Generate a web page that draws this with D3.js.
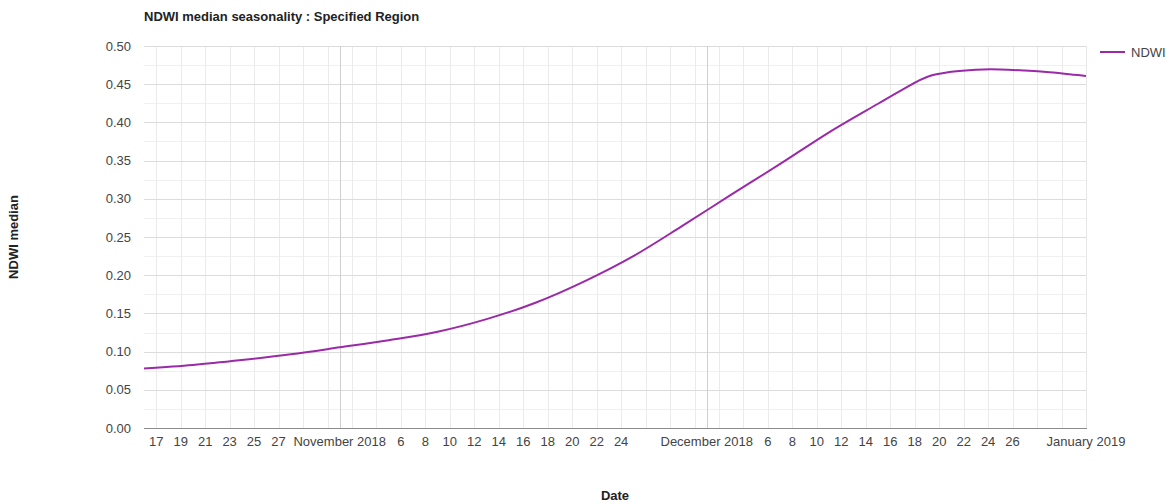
<!DOCTYPE html>
<html>
<head>
<meta charset="utf-8">
<script src="https://cdn.jsdelivr.net/npm/d3@7"></script>
<style>
  html, body { margin: 0; padding: 0; background: #fff; }
  svg { display: block; font-family: "Liberation Sans", Arial, sans-serif; }
</style>
</head>
<body>
<svg id="chart" width="1175" height="504"></svg>
<script>
// NDWI median series (date, value)
const dates = ["2018-10-16","2018-10-20","2018-10-24","2018-10-28","2018-11-01","2018-11-05",
  "2018-11-09","2018-11-13","2018-11-17","2018-11-21","2018-11-25","2018-11-29","2018-12-03",
  "2018-12-07","2018-12-11","2018-12-15","2018-12-17","2018-12-19","2018-12-21","2018-12-23",
  "2018-12-25","2018-12-27","2018-12-29","2018-12-31","2019-01-01"];
const ndwi = [0.078, 0.0825, 0.089, 0.0965, 0.1056, 0.115,
  0.126, 0.1425, 0.164, 0.192, 0.225, 0.2645, 0.3054,
  0.3456, 0.387, 0.4244, 0.443, 0.4595, 0.4662, 0.469,
  0.4693, 0.4679, 0.4657, 0.4625, 0.4607];

// Labelled x ticks
const xTickDates = ["2018-10-17","2018-10-19","2018-10-21","2018-10-23","2018-10-25","2018-10-27",
  "2018-11-01","2018-11-06","2018-11-08","2018-11-10","2018-11-12","2018-11-14","2018-11-16",
  "2018-11-18","2018-11-20","2018-11-22","2018-11-24","2018-12-01","2018-12-06","2018-12-08",
  "2018-12-10","2018-12-12","2018-12-14","2018-12-16","2018-12-18","2018-12-20","2018-12-22",
  "2018-12-24","2018-12-26","2019-01-01"];
const xTickLabels = ["17","19","21","23","25","27","November 2018","6","8","10","12","14","16",
  "18","20","22","24","December 2018","6","8","10","12","14","16","18","20","22","24","26",
  "January 2019"];
const monthStarts = ["2018-11-01","2018-12-01"];
const yTicks = [0, 0.05, 0.10, 0.15, 0.20, 0.25, 0.30, 0.35, 0.40, 0.45, 0.50];

const title = "NDWI median seasonality : Specified Region";
const xTitle = "Date";
const yTitle = "NDWI median";
const seriesName = "NDWI";
const lineColor = "#9b2aa8";

const parse = d3.utcParse("%Y-%m-%d");
const data = dates.map((d, i) => ({ date: parse(d), value: ndwi[i] }));

const plot = { left: 144, right: 1086, top: 46, bottom: 428 };
const svg = d3.select("#chart");

const x = d3.scaleUtc()
  .domain([parse("2018-10-16"), parse("2019-01-01")])
  .range([plot.left, plot.right]);
const y = d3.scaleLinear().domain([0, 0.5]).range([plot.bottom, plot.top]);

const grid = svg.append("g").attr("shape-rendering", "crispEdges");

// minor horizontal gridlines (every 0.025)
grid.selectAll("line.hmin")
  .data(d3.range(0.025, 0.5, 0.05))
  .join("line")
  .attr("x1", plot.left).attr("x2", plot.right + 1)
  .attr("y1", d => Math.round(y(d)) + 0.5).attr("y2", d => Math.round(y(d)) + 0.5)
  .attr("stroke", "#f0f0f0");

// minor vertical gridlines every two days
const dayLines = d3.utcDay.range(parse("2018-10-17"), parse("2019-01-01"), 1)
  .filter(d => Math.round((d - parse("2018-10-17")) / 864e5) % 2 === 0)
  .filter(d => !monthStarts.includes(d3.utcFormat("%Y-%m-%d")(d)));
grid.selectAll("line.vmin")
  .data(dayLines)
  .join("line")
  .attr("x1", d => Math.round(x(d)) + 0.5).attr("x2", d => Math.round(x(d)) + 0.5)
  .attr("y1", plot.top).attr("y2", plot.bottom)
  .attr("stroke", "#ebebeb");

// major horizontal gridlines
grid.selectAll("line.hmaj")
  .data(yTicks.slice(1))
  .join("line")
  .attr("x1", plot.left).attr("x2", plot.right + 1)
  .attr("y1", d => Math.round(y(d)) + 0.5).attr("y2", d => Math.round(y(d)) + 0.5)
  .attr("stroke", "#dcdcdc");

// month gridlines
grid.selectAll("line.vmaj")
  .data(monthStarts.map(parse))
  .join("line")
  .attr("x1", d => Math.round(x(d)) + 0.5).attr("x2", d => Math.round(x(d)) + 0.5)
  .attr("y1", plot.top).attr("y2", plot.bottom)
  .attr("stroke", "#cfcfcf");

// right frame edge
grid.append("line")
  .attr("x1", plot.right + 0.5).attr("x2", plot.right + 0.5)
  .attr("y1", plot.top).attr("y2", plot.bottom)
  .attr("stroke", "#e6e6e6");

// baseline
grid.append("line")
  .attr("x1", plot.left).attr("x2", plot.right + 1)
  .attr("y1", plot.bottom + 0.5).attr("y2", plot.bottom + 0.5)
  .attr("stroke", "#8c8c8c");

// y axis labels
svg.append("g")
  .selectAll("text")
  .data(yTicks)
  .join("text")
  .attr("x", 131)
  .attr("y", d => y(d) + 4.5)
  .attr("text-anchor", "end")
  .attr("font-size", 13)
  .attr("fill", "#444")
  .text(d => d3.format(".2f")(d));

// x axis labels
svg.append("g")
  .selectAll("text")
  .data(xTickDates.map((d, i) => ({ date: parse(d), label: xTickLabels[i] })))
  .join("text")
  .attr("x", d => x(d.date))
  .attr("y", 446)
  .attr("text-anchor", "middle")
  .attr("font-size", 13)
  .attr("fill", "#444")
  .text(d => d.label);

// series line
const line = d3.line()
  .x(d => x(d.date))
  .y(d => y(d.value))
  .curve(d3.curveCatmullRom.alpha(0.5));
svg.append("path")
  .datum(data)
  .attr("d", line)
  .attr("fill", "none")
  .attr("stroke", lineColor)
  .attr("stroke-width", 2)
  .attr("stroke-linejoin", "round");

// titles
svg.append("text")
  .attr("x", 144).attr("y", 21)
  .attr("font-size", 13).attr("font-weight", "bold").attr("fill", "#222")
  .text(title);
svg.append("text")
  .attr("x", (plot.left + plot.right) / 2).attr("y", 500)
  .attr("text-anchor", "middle")
  .attr("font-size", 13).attr("font-weight", "bold").attr("fill", "#222")
  .text(xTitle);
svg.append("text")
  .attr("transform", `translate(17.5, ${(plot.top + plot.bottom) / 2}) rotate(-90)`)
  .attr("text-anchor", "middle")
  .attr("font-size", 13).attr("font-weight", "bold").attr("fill", "#222")
  .text(yTitle);

// legend
const legend = svg.append("g");
legend.append("line")
  .attr("x1", 1100).attr("x2", 1125)
  .attr("y1", 52).attr("y2", 52)
  .attr("stroke", lineColor).attr("stroke-width", 2);
legend.append("text")
  .attr("x", 1131).attr("y", 56.5)
  .attr("font-size", 13).attr("fill", "#444")
  .text(seriesName);
</script>
</body>
</html>
